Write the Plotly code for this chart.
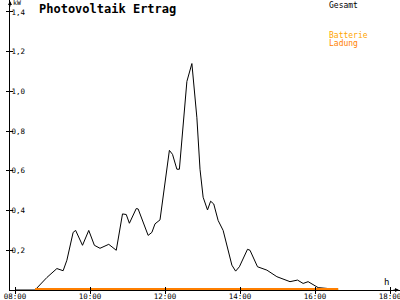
import plotly.graph_objects as go

DAY = "2024-06-01 "

# Gesamt (kW)
gesamt_times = ["08:00", "08:32", "08:51", "09:07", "09:17", "09:23", "09:33", "09:37", "09:48",
                "09:58", "10:07", "10:16", "10:30", "10:42", "10:52", "10:58", "11:03",
                "11:14", "11:17", "11:31", "11:33", "11:39", "11:44", "11:52", "12:07",
                "12:12", "12:19", "12:23", "12:35", "12:43", "12:51", "12:56", "13:01",
                "13:08", "13:13", "13:18", "13:25", "13:33", "13:47", "13:53", "13:59",
                "14:12", "14:16", "14:28", "14:43", "14:59", "15:20", "15:32", "15:41",
                "15:49", "16:05", "16:19", "16:35", "16:37"]
gesamt = [0.0, 0.0, 0.063, 0.108, 0.097, 0.15, 0.29, 0.30, 0.225,
          0.30, 0.225, 0.21, 0.23, 0.20, 0.383, 0.38, 0.336,
          0.41, 0.408, 0.283, 0.275, 0.29, 0.333, 0.353, 0.703,
          0.683, 0.608, 0.608, 1.05, 1.14, 0.867, 0.608, 0.467,
          0.403, 0.447, 0.433, 0.35, 0.30, 0.125, 0.095, 0.117,
          0.205, 0.20, 0.117, 0.10, 0.067, 0.042, 0.05, 0.033,
          0.042, 0.012, 0.008, 0.003, 0.0]

batterie_times = ["08:32", "16:37"]
batterie = [0.0, 0.0]
ladung_times = ["08:32", "16:37"]
ladung = [0.0, 0.0]

y_ticks = [0.2, 0.4, 0.6, 0.8, 1.0, 1.2, 1.4]
x_ticks = ["08:00", "10:00", "12:00", "14:00", "16:00", "18:00"]

FONT = "DejaVu Sans Mono"
BLACK = "#000000"
C_BATT = "#FFA500"
C_LAD = "#FF7F00"

def dt(ts):
    return [DAY + t for t in ts]

fig = go.Figure()
fig.add_trace(go.Scatter(x=dt(gesamt_times), y=gesamt, mode="lines", name="Gesamt",
                         line=dict(color=BLACK, width=1)))
fig.add_trace(go.Scatter(x=dt(batterie_times), y=batterie, mode="lines", name="Batterie",
                         line=dict(color=C_BATT, width=4)))
fig.add_trace(go.Scatter(x=dt(ladung_times), y=ladung, mode="lines", name="Ladung",
                         line=dict(color=C_LAD, width=4)))

xr = [DAY + "07:52", DAY + "18:16"]
yr = [0, 1.46]

fig.update_layout(
    width=400, height=300,
    margin=dict(l=10, r=0, t=0, b=10, autoexpand=False),
    paper_bgcolor="white", plot_bgcolor="white",
    showlegend=False,
    separators=",.",
    font=dict(family=FONT, size=8, color=BLACK),
    xaxis=dict(type="date", range=xr, tickvals=dt(x_ticks), tickformat="%H:%M",
               showgrid=False, zeroline=False, showline=True, linecolor=BLACK, linewidth=1,
               ticks="outside", ticklen=3, tickcolor=BLACK, layer="below traces",
               automargin=False, ticklabeloverflow="allow", ticklabelstandoff=-4,
               tickfont=dict(family=FONT, size=7.5, color=BLACK), fixedrange=True),
    yaxis=dict(range=yr, tickvals=y_ticks, tickformat=".1f",
               showgrid=False, zeroline=False, showline=True, linecolor=BLACK, linewidth=1,
               ticks="outside", ticklen=3, tickcolor=BLACK, ticklabelposition="inside",
               automargin=False, ticklabeloverflow="allow",
               tickfont=dict(family=FONT, size=7.5, color=BLACK), layer="below traces",
               fixedrange=True),
    xaxis2=dict(type="date", range=xr, tickvals=dt(x_ticks), overlaying="x",
                showticklabels=False, showgrid=False, zeroline=False, showline=False,
                ticks="inside", ticklen=3, tickcolor=BLACK, automargin=False),
    yaxis2=dict(range=yr, tickvals=y_ticks, overlaying="y", showticklabels=False,
                showgrid=False, zeroline=False, showline=False,
                ticks="inside", ticklen=3, tickcolor=BLACK, automargin=False),
)
# dummy trace to activate overlay axes
fig.add_trace(go.Scatter(x=[None], y=[None], xaxis="x2", yaxis="y2", showlegend=False,
                         hoverinfo="skip"))

# (text, left px, top px, size, color)
ann = [
    ("<b>Photovoltaik Ertrag</b>", 37, 0, 12, BLACK),
    ("kW", 11, -3, 6.5, BLACK),
    ("h", 382, 275, 9, BLACK),
    ("Gesamt", 327, -1, 8, BLACK),
    ("Batterie", 327, 29, 8, C_BATT),
    ("Ladung", 327, 37, 8, C_LAD),
]
for text, xp, yp, size, col in ann:
    fig.add_annotation(text=text, xref="paper", yref="paper",
                       x=(xp - 10) / 390, y=(290 - yp) / 290,
                       xanchor="left", yanchor="top", showarrow=False,
                       font=dict(family=FONT, color=col, size=size))

# axis arrows
fig.add_annotation(xref="paper", yref="paper", x=0, y=1, ax=0, ay=8, text="",
                   showarrow=True, arrowhead=2, arrowsize=0.8, arrowwidth=1, arrowcolor=BLACK)
fig.add_annotation(xref="paper", yref="paper", x=1, y=0, ax=-8, ay=0, text="",
                   showarrow=True, arrowhead=2, arrowsize=0.8, arrowwidth=1, arrowcolor=BLACK)

fig.write_html("out.html")
